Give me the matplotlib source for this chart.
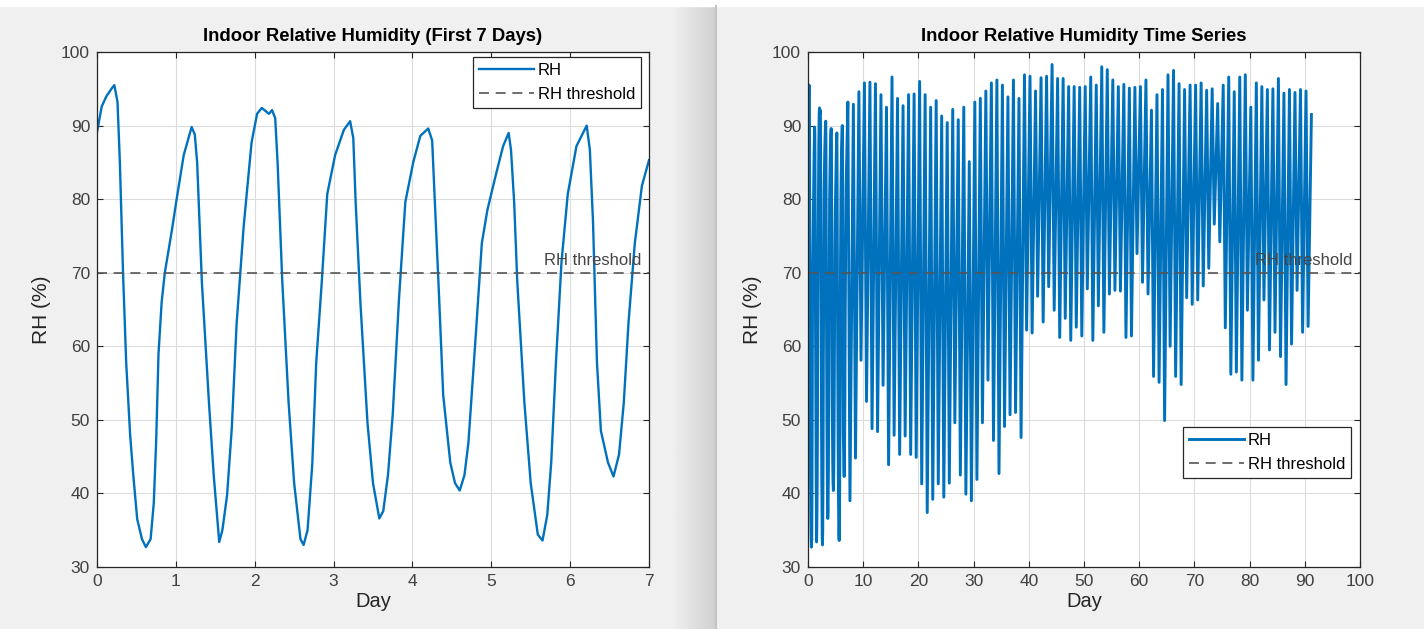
import numpy as np
import matplotlib.pyplot as plt
from matplotlib.transforms import blended_transform_factory

plt.rcParams['font.family'] = ['Liberation Sans', 'DejaVu Sans']

# first week (day, RH %)
week_day = [0.0, 0.06, 0.12, 0.19, 0.22, 0.26, 0.29, 0.33, 0.37, 0.42, 0.46, 0.51, 0.57, 0.62, 0.68,
            0.72, 0.75, 0.78, 0.82, 0.86, 0.95, 1.01, 1.1, 1.2, 1.24, 1.27, 1.33, 1.42, 1.48, 1.55,
            1.59, 1.65, 1.71, 1.77, 1.86, 1.96, 2.03, 2.09, 2.18, 2.22, 2.26, 2.29, 2.35, 2.43, 2.5,
            2.58, 2.62, 2.67, 2.73, 2.78, 2.85, 2.92, 3.02, 3.13, 3.21, 3.25, 3.28, 3.34, 3.43, 3.5,
            3.58, 3.63, 3.69, 3.75, 3.83, 3.91, 4.01, 4.1, 4.2, 4.25, 4.28, 4.33, 4.39, 4.48, 4.54,
            4.6, 4.66, 4.71, 4.8, 4.88, 4.95, 5.06, 5.15, 5.22, 5.25, 5.29, 5.33, 5.42, 5.5, 5.59,
            5.65, 5.71, 5.76, 5.82, 5.89, 5.97, 6.08, 6.21, 6.25, 6.29, 6.34, 6.39, 6.48, 6.55, 6.62,
            6.68, 6.74, 6.82, 6.91, 7.0]
week_rh = [89.1, 92.6, 94.0, 95.1, 95.5, 93.2, 85.0, 70.0, 57.8, 48.0, 42.5, 36.5, 33.8, 32.7, 33.8,
           38.7, 47.0, 59.0, 66.0, 70.0, 75.8, 80.0, 86.0, 89.8, 88.8, 85.0, 68.7, 52.3, 42.5, 33.4,
           35.0, 39.8, 49.0, 63.0, 76.3, 87.7, 91.6, 92.4, 91.6, 92.1, 91.0, 85.0, 68.7, 52.3, 41.4,
           33.8, 33.0, 35.0, 44.0, 57.8, 68.7, 80.7, 86.0, 89.4, 90.6, 88.3, 79.6, 66.0, 49.6, 41.4,
           36.6, 37.6, 42.5, 50.7, 66.5, 79.6, 85.0, 88.6, 89.6, 88.0, 80.7, 68.7, 53.4, 44.2, 41.4,
           40.4, 42.5, 46.9, 61.0, 74.0, 78.5, 83.4, 87.2, 89.0, 86.7, 79.6, 68.7, 52.3, 41.4, 34.4,
           33.6, 37.1, 44.2, 57.8, 71.4, 80.7, 87.2, 90.0, 86.7, 76.9, 57.8, 48.5, 44.2, 42.3, 45.3,
           52.3, 63.2, 74.0, 81.8, 85.3]

# daily maxima / minima from day 7 to day 90 (right panel)
daily_peak = [93.2, 92.9, 94.6, 95.8, 95.9, 95.7, 94.2, 92.5, 96.6, 93.7, 92.7, 94.2, 94.3, 96.0,
              94.2, 92.5, 93.4, 91.3, 90.4, 92.2, 90.8, 92.5, 85.1, 93.2, 93.7, 94.7, 95.8, 96.2,
              95.5, 93.9, 96.2, 93.7, 96.9, 96.7, 94.7, 96.5, 96.7, 98.3, 96.4, 96.4, 95.3, 95.3,
              95.2, 95.3, 96.6, 95.5, 98.0, 97.6, 96.2, 95.3, 95.6, 95.1, 95.2, 95.3, 96.2, 92.1,
              94.2, 94.9, 96.9, 97.5, 95.7, 94.9, 95.5, 95.5, 95.8, 94.8, 95.0, 93.0, 95.5, 96.6,
              94.6, 96.6, 96.9, 92.5, 95.8, 95.3, 94.9, 95.0, 96.4, 94.4, 94.9, 94.5, 94.9, 94.7]
daily_low = [39.0, 44.8, 58.1, 52.5, 48.8, 48.4, 54.7, 43.9, 47.9, 45.3, 47.8, 45.3, 44.9, 41.3,
             37.4, 39.2, 41.3, 39.5, 41.4, 49.6, 42.5, 39.9, 39.0, 41.9, 49.6, 55.4, 47.2, 42.7,
             49.1, 50.7, 51.0, 47.6, 62.2, 61.8, 66.8, 63.3, 68.1, 64.9, 61.2, 63.8, 60.8, 62.6,
             61.4, 67.8, 60.8, 65.5, 61.9, 67.1, 67.6, 67.5, 61.2, 61.4, 72.6, 68.7, 67.1, 55.9,
             55.1, 49.9, 60.0, 55.9, 54.8, 66.6, 65.7, 66.3, 68.2, 70.6, 76.6, 74.2, 62.5, 56.2,
             56.5, 55.4, 64.9, 55.4, 58.1, 66.3, 59.5, 61.9, 58.6, 54.8, 60.3, 67.6, 61.9, 62.7]
first_day = 7
peak_time = 0.22
low_time = 0.6
end_day = 91.2
end_rh = 91.5

threshold = 70
blue = '#0072BD'
edge = '#262626'


def full_series():
    t = list(week_day)
    rh = list(week_rh)
    for i, (hi, lo) in enumerate(zip(daily_peak, daily_low)):
        d = first_day + i
        t += [d + peak_time, d + low_time]
        rh += [hi, lo]
    t.append(end_day)
    rh.append(end_rh)
    return np.array(t), np.array(rh)


def style_axes(ax, xmax, xstep, title):
    ax.set_facecolor('white')
    ax.set_xlim(0, xmax)
    ax.set_ylim(30, 100)
    ax.set_xticks(np.arange(0, xmax + xstep / 2, xstep))
    ax.set_yticks(np.arange(30, 101, 10))
    ax.grid(True, color='#dcdcdc', linewidth=0.8)
    ax.set_axisbelow(True)
    ax.tick_params(direction='in', top=True, right=True, length=4, width=0.8,
                   color=edge, labelcolor='#404040', labelsize=12.5, pad=5)
    for sp in ax.spines.values():
        sp.set_color(edge)
        sp.set_linewidth(0.9)
    ax.set_title(title, fontsize=13.3, fontweight='bold', color='black', pad=8)
    ax.set_xlabel('Day', fontsize=14.5, color='#262626', labelpad=2)
    ax.set_ylabel('RH (%)', fontsize=15, color='#262626', labelpad=7)


def add_threshold(ax):
    ax.axhline(threshold, color='#555555', linestyle=(0, (6, 4)), linewidth=1.2,
               label='RH threshold')
    tr = blended_transform_factory(ax.transAxes, ax.transData)
    ax.text(0.986, threshold + 0.6, 'RH threshold', transform=tr, ha='right', va='bottom',
            fontsize=12, color='#444444')


fig = plt.figure(figsize=(14.24, 6.29), dpi=100, facecolor='#f0f0f0')

# window edge between the two panels
grad = fig.add_axes([672 / 1424, 0, 43 / 1424, 623 / 629])
grad.imshow(np.linspace(0.94, 0.82, 64).reshape(1, -1), cmap='gray', vmin=0, vmax=1,
            aspect='auto', extent=[0, 1, 0, 1])
grad.axis('off')
fig.add_artist(plt.Line2D([716 / 1424, 716 / 1424], [0, 623 / 629], color='#c4c4c4',
                          linewidth=1.5, transform=fig.transFigure))
fig.add_artist(plt.Rectangle((0, 623 / 629), 1, 6 / 629, color='white',
                             transform=fig.transFigure))

ax1 = fig.add_axes([97 / 1424, 62 / 629, 552 / 1424, 515 / 629])
ax2 = fig.add_axes([808 / 1424, 62 / 629, 552 / 1424, 515 / 629])

ax1.plot(week_day, week_rh, color=blue, linewidth=1.7, label='RH')
add_threshold(ax1)
style_axes(ax1, 7, 1, 'Indoor Relative Humidity (First 7 Days)')
leg1 = ax1.legend(loc='upper right', bbox_to_anchor=(0.9855, 0.99), borderaxespad=0,
                  fontsize=12, handlelength=3.3, fancybox=False, edgecolor=edge,
                  framealpha=1, labelspacing=0.55, handletextpad=0.25, borderpad=0.35)
leg1.get_frame().set_linewidth(0.9)

t, rh = full_series()
ax2.plot(t, rh, color=blue, linewidth=2.1, label='RH')
add_threshold(ax2)
style_axes(ax2, 100, 10, 'Indoor Relative Humidity Time Series')
leg2 = ax2.legend(loc='lower right', bbox_to_anchor=(0.984, 0.173), borderaxespad=0,
                  fontsize=12, handlelength=3.3, fancybox=False, edgecolor=edge,
                  framealpha=1, labelspacing=0.55, handletextpad=0.25, borderpad=0.35)
leg2.get_frame().set_linewidth(0.9)

fig.savefig('out.png', dpi=100, facecolor=fig.get_facecolor())
